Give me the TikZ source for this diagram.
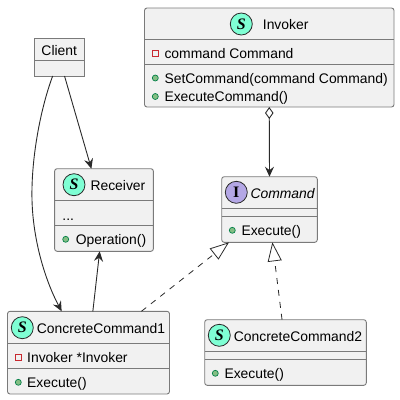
\documentclass[tikz,border=0pt]{standalone}
\usepackage{fontspec}
\setmainfont{Liberation Sans}
\newfontfamily\iconfont{Liberation Serif}
\usetikzlibrary{arrows.meta,positioning}
\definecolor{boxfill}{HTML}{F1F1F1}
\definecolor{boxline}{HTML}{7A7A7A}
\definecolor{wire}{HTML}{2A2A2A}
\definecolor{iconS}{HTML}{7FFFD4}
\definecolor{iconI}{HTML}{B4A7E5}
\definecolor{pubfill}{HTML}{84BE84}
\definecolor{publine}{HTML}{038048}
\definecolor{privline}{HTML}{C82930}
\tikzset{
    %Define arrow tips
    >={Stealth[length=10pt,width=9pt,inset=3.5pt]},
    %Define style for class boxes
    cbox/.style={
           rectangle,
           rounded corners=2.5pt,
           draw=boxline, line width=0.9pt,
           fill=boxfill,
           inner sep=0pt,
           outer sep=0pt},
    sepline/.style={draw=boxline, line width=0.9pt},
    %Define style for texts
    lbl/.style={
           anchor=base west,
           inner sep=0pt,
           font=\fontsize{13.9}{16}\selectfont},
    %Define style for circle icons
    sicon/.style={
           circle,
           draw=wire, line width=0.8pt,
           fill=iconS,
           minimum size=22pt,
           inner sep=0pt,
           font=\iconfont\bfseries\itshape\fontsize{16}{16}\selectfont},
    iicon/.style={
           sicon,
           fill=iconI,
           font=\iconfont\bfseries\fontsize{16}{16}\selectfont},
    %Define style for member markers
    pub/.style={
           circle,
           draw=publine, line width=0.7pt,
           fill=pubfill,
           minimum size=6pt,
           inner sep=0pt},
    priv/.style={
           rectangle,
           draw=privline, line width=0.9pt,
           fill=none,
           minimum size=6pt,
           inner sep=0pt},
    % Define arrow styles
    pil/.style={
           ->,
           draw=wire,
           line width=0.9pt},
    impl/.style={
           -{Triangle[open,length=19pt,width=14pt]},
           draw=wire,
           line width=0.8pt,
           dash pattern=on 6pt off 6pt},
}
\begin{document}
\begin{tikzpicture}[x=1pt,y=-1pt]
\useasboundingbox (0,0) rectangle (400,400);

%invoker
\node[cbox, minimum width=249.5pt, minimum height=99pt] (invoker) at (269.25,57.5) {};
\draw[sepline] (invoker.west |- 0,39) -- (invoker.east |- 0,39);
\draw[sepline] (invoker.west |- 0,64) -- (invoker.east |- 0,64);
\node[sicon] (invokerS) at (241.3,24) {S};
\node[lbl] (invokerT) at (262.7,29) {Invoker};
\node[priv] (invokerA) at (155.3,53) {};
\node[lbl] (invokerB) at (164.3,58) {command Command};
\node[pub] (invokerC) at (155.3,78) {};
\node[lbl] (invokerD) at (164.3,83) {SetCommand(command Command)};
\node[pub] (invokerE) at (155.3,96.5) {};
\node[lbl] (invokerF) at (164.3,101.5) {ExecuteCommand()};

%client
\node[cbox, rounded corners=0pt, minimum width=50pt, minimum height=37.5pt] (client) at (59.5,57.25) {};
\draw[sepline] (client.west |- 0,60) -- (client.east |- 0,60);
\node[lbl] (clientT) at (41.3,55) {Client};

%receiver
\node[cbox, minimum width=98.8pt, minimum height=82.6pt] (receiver) at (104,210) {};
\draw[sepline] (receiver.west |- 0,200.7) -- (receiver.east |- 0,200.7);
\draw[sepline] (receiver.west |- 0,225) -- (receiver.east |- 0,225);
\node[sicon] (receiverS) at (74,184.7) {S};
\node[lbl] (receiverT) at (90.3,190) {Receiver};
\node[lbl] (receiverA) at (62.3,220) {...};
\node[pub] (receiverB) at (65.7,239.3) {};
\node[lbl] (receiverC) at (75.7,244) {Operation()};

%command
\node[cbox, minimum width=95.6pt, minimum height=65.6pt] (command) at (269.5,209.5) {};
\draw[sepline] (command.west |- 0,208.7) -- (command.east |- 0,208.7);
\draw[sepline] (command.west |- 0,216.3) -- (command.east |- 0,216.3);
\node[iicon] (commandI) at (236.3,192.3) {I};
\node[lbl, font=\fontsize{13.9}{16}\selectfont\itshape] (commandT) at (250.3,198) {Command};
\node[pub] (commandA) at (232.3,230.3) {};
\node[lbl] (commandB) at (241.3,235.3) {Execute()};

%concrete command 1
\node[cbox, minimum width=162pt, minimum height=82.7pt] (concrete1) at (88.5,352.65) {};
\draw[sepline] (concrete1.west |- 0,343.3) -- (concrete1.east |- 0,343.3);
\draw[sepline] (concrete1.west |- 0,368.3) -- (concrete1.east |- 0,368.3);
\node[sicon] (concrete1S) at (22.3,327.7) {S};
\node[lbl] (concrete1T) at (36.7,333) {ConcreteCommand1};
\node[priv] (concrete1A) at (18.3,357) {};
\node[lbl] (concrete1B) at (27,362) {Invoker *Invoker};
\node[pub] (concrete1C) at (18.3,382.3) {};
\node[lbl] (concrete1D) at (27,387) {Execute()};

%concrete command 2
\node[cbox, minimum width=161.6pt, minimum height=65.6pt] (concrete2) at (285.5,352.5) {};
\draw[sepline] (concrete2.west |- 0,351.3) -- (concrete2.east |- 0,351.3);
\draw[sepline] (concrete2.west |- 0,359.3) -- (concrete2.east |- 0,359.3);
\node[sicon] (concrete2S) at (219.3,335.3) {S};
\node[lbl] (concrete2T) at (233.7,341.3) {ConcreteCommand2};
\node[pub] (concrete2A) at (215.3,373.3) {};
\node[lbl] (concrete2B) at (224.3,378.3) {Execute()};

%connectors
\draw[pil, {Diamond[open,length=12pt,width=8.5pt]}->] (invoker.south) -- (command.north);
\draw[pil] (client.-75.6) -- (receiver.107.5);
\draw[pil] (client.-110) .. controls (40,110) and (31,160) .. (32,200)
  .. controls (33,240) and (45,280) .. (concrete1.123);
\draw[pil] (concrete1.84.7) -- (receiver.-96.8);
\draw[impl] (concrete1.38.8) -- (command.-141.9);
\draw[impl] (concrete2.96.6) -- (command.-85.6);

\end{tikzpicture}
\end{document}
